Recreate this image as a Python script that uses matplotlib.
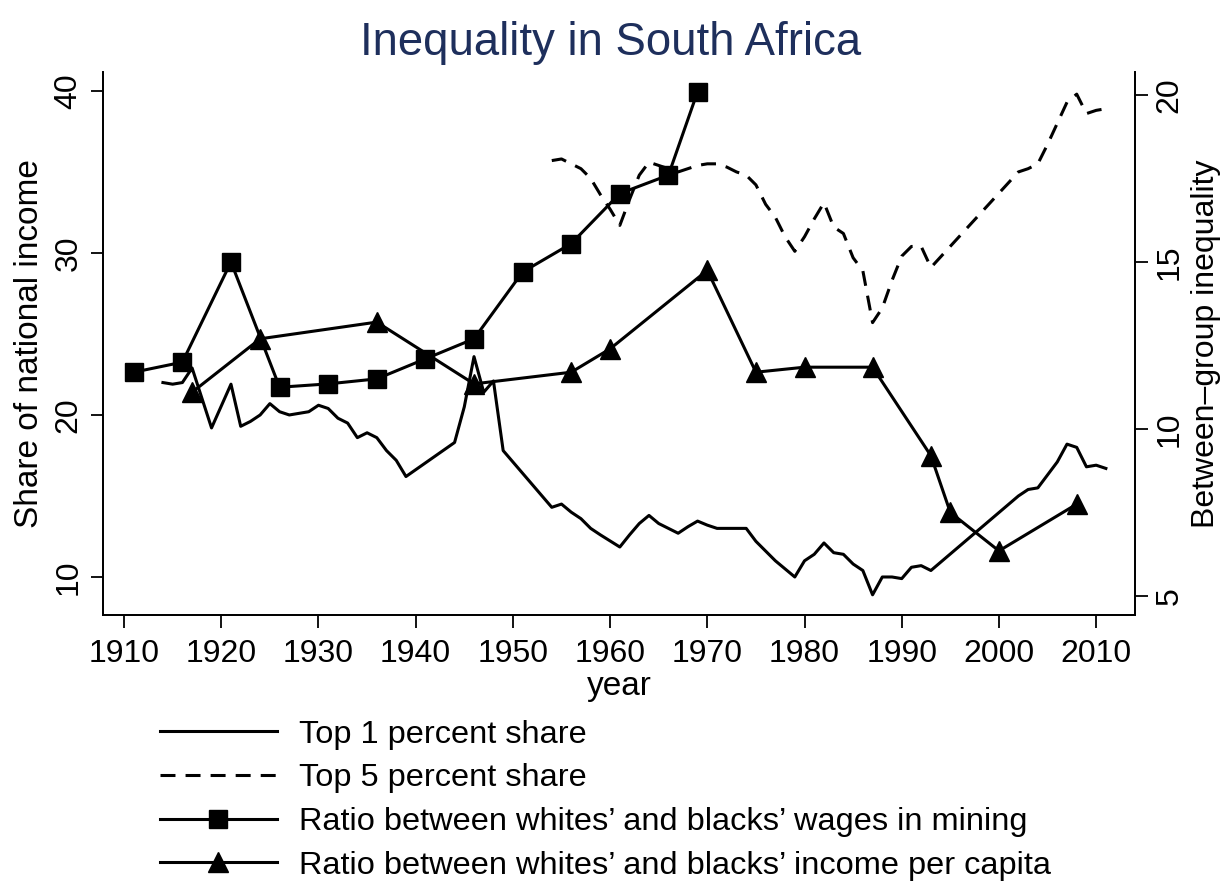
import matplotlib
matplotlib.use('Agg')
import matplotlib.pyplot as plt
from matplotlib.lines import Line2D

plt.rcParams['font.family'] = ['Liberation Sans', 'DejaVu Sans']

# top 1 percent share (left axis)
top1_years = [1914, 1915, 1916, 1917, 1919, 1921, 1922, 1923, 1924, 1925, 1926, 1927, 1928,
              1929, 1930, 1931, 1932, 1933, 1934, 1935, 1936, 1937, 1938, 1939, 1944, 1945,
              1946, 1947, 1948, 1949, 1954, 1955, 1956, 1957, 1958, 1959, 1961, 1962, 1963,
              1964, 1965, 1966, 1967, 1968, 1969, 1970, 1971, 1972, 1973, 1974, 1975, 1976,
              1977, 1978, 1979, 1980, 1981, 1982, 1983, 1984, 1985, 1986, 1987, 1988, 1989,
              1990, 1991, 1992, 1993, 2002, 2003, 2004, 2005, 2006, 2007, 2008, 2009, 2010, 2011]
top1_vals = [22.0, 21.9, 22.0, 22.9, 19.2, 21.9, 19.3, 19.6, 20.0, 20.7, 20.2, 20.0, 20.1,
             20.2, 20.6, 20.4, 19.8, 19.5, 18.6, 18.9, 18.6, 17.8, 17.2, 16.2, 18.3, 20.5,
             23.6, 21.4, 22.1, 17.8, 14.3, 14.5, 14.0, 13.6, 13.0, 12.6, 11.85, 12.6, 13.3,
             13.8, 13.3, 13.0, 12.7, 13.1, 13.45, 13.2, 13.0, 13.0, 13.0, 13.0, 12.2, 11.6,
             11.0, 10.5, 10.0, 11.0, 11.4, 12.1, 11.5, 11.4, 10.8, 10.4, 8.9, 10.0, 10.0,
             9.9, 10.6, 10.7, 10.4, 15.0, 15.4, 15.5, 16.3, 17.1, 18.2, 18.0, 16.8, 16.9, 16.7]

# top 5 percent share (left axis)
top5_years = [1954, 1955, 1956, 1957, 1958, 1959, 1960, 1961, 1962, 1963, 1964, 1965, 1966,
              1967, 1968, 1969, 1970, 1971, 1972, 1973, 1974, 1975, 1976, 1977, 1978, 1979,
              1980, 1981, 1982, 1983, 1984, 1985, 1986, 1987, 1988, 1989, 1990, 1991, 1992,
              1993, 2002, 2003, 2004, 2005, 2006, 2007, 2008, 2009, 2010, 2011]
top5_vals = [35.7, 35.8, 35.5, 35.2, 34.6, 33.6, 32.7, 31.7, 33.3, 34.8, 35.6, 35.4, 35.2,
             35.0, 35.2, 35.4, 35.5, 35.5, 35.3, 35.0, 34.8, 34.2, 33.0, 32.2, 31.0, 30.1,
             31.0, 32.1, 33.1, 31.6, 31.2, 29.7, 28.9, 25.7, 26.6, 28.3, 29.8, 30.4, 30.4,
             29.1, 35.0, 35.2, 35.5, 36.7, 38.0, 39.3, 39.8, 38.6, 38.8, 38.9]

# ratio of wages in mining (right axis)
mining_years = [1911, 1916, 1921, 1926, 1931, 1936, 1941, 1946, 1951, 1956, 1961, 1966, 1969]
mining_vals = [11.7, 12.0, 15.0, 11.25, 11.35, 11.5, 12.1, 12.7, 14.7, 15.55, 17.05, 17.6, 20.1]

# ratio of income per capita (right axis)
income_years = [1917, 1924, 1936, 1946, 1956, 1960, 1970, 1975, 1980, 1987, 1993, 1995, 2000, 2008]
income_vals = [11.1, 12.7, 13.2, 11.35, 11.7, 12.4, 14.75, 11.7, 11.85, 11.85, 9.2, 7.5, 6.35, 7.75]

fig = plt.figure(figsize=(12.21, 8.84), dpi=100)
ax = fig.add_axes([0.0844, 0.3043, 0.8452, 0.6143])
ax2 = ax.twinx()

lw = 2.2
dash = (0, (4.9, 3.3))
ax.plot(top1_years, top1_vals, color='black', lw=lw)
ax.plot(top5_years, top5_vals, color='black', lw=lw, linestyle=dash)
ax2.plot(mining_years, mining_vals, color='black', lw=lw, marker='s', markersize=12.5)
ax2.plot(income_years, income_vals, color='black', lw=lw, marker='^', markersize=14)

ax.set_xlim(1907.84, 2014.0)
ax.set_ylim(7.654, 41.17)
ax2.set_ylim(4.43, 20.69)
ax.set_xticks(range(1910, 2011, 10))
ax.set_yticks([10, 20, 30, 40])
ax2.set_yticks([5, 10, 15, 20])

for a in (ax, ax2):
    a.spines['top'].set_visible(False)
    for s in a.spines.values():
        s.set_linewidth(1.3)
ax.tick_params(axis='x', labelsize=23, length=9, width=1.3, pad=8)
ax.tick_params(axis='y', labelsize=23, length=9, width=1.3, pad=5)
ax2.tick_params(axis='y', labelsize=23, length=9, width=1.3, pad=5)
for lab in ax.get_yticklabels() + ax2.get_yticklabels():
    lab.set_rotation(90)
    lab.set_va('center')

ax.set_xlabel('year', fontsize=24, labelpad=2)
ax.set_ylabel('Share of national income', fontsize=24, labelpad=6)
ax2.set_ylabel('Between\u2013group inequality', fontsize=23, labelpad=4.5)

fig.suptitle('Inequality in South Africa', fontsize=32.8, color='#1e2f5c', y=0.976)

handles = [
    Line2D([], [], color='black', lw=lw),
    Line2D([], [], color='black', lw=lw, linestyle=dash),
    Line2D([], [], color='black', lw=lw, marker='s', markersize=12.5),
    Line2D([], [], color='black', lw=lw, marker='^', markersize=14),
]
labels = ['Top 1 percent share', 'Top 5 percent share',
          'Ratio between whites\u2019 and blacks\u2019 wages in mining',
          'Ratio between whites\u2019 and blacks\u2019 income per capita']
fig.legend(handles, labels, loc='upper left', bbox_to_anchor=(0.131, 0.186),
           frameon=False, fontsize=23.4, handlelength=3.6, handletextpad=0.68,
           labelspacing=0.42, numpoints=1, borderaxespad=0, borderpad=0)

fig.savefig('out.png', dpi=100)
